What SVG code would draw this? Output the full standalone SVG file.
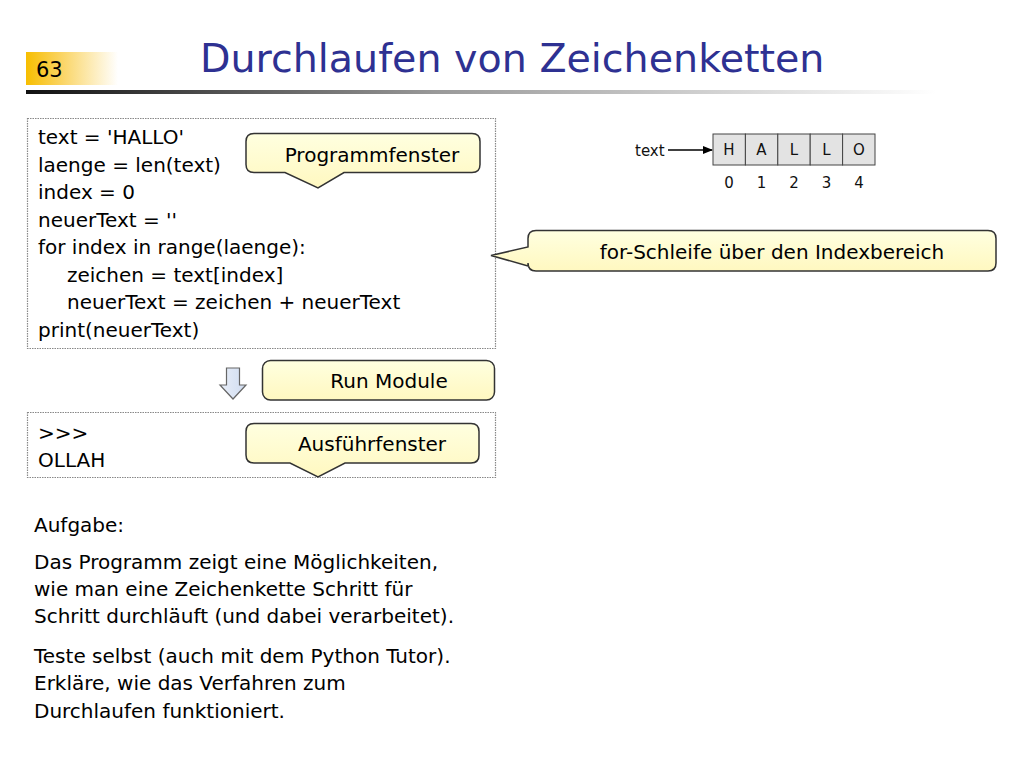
<svg xmlns="http://www.w3.org/2000/svg" width="1024" height="768" viewBox="0 0 1024 768">
<defs>
  <linearGradient id="numGrad" x1="0" y1="0" x2="1" y2="0">
    <stop offset="0" stop-color="#F7BE00"/>
    <stop offset="0.35" stop-color="#FAD25A"/>
    <stop offset="1" stop-color="#FFFFFF"/>
  </linearGradient>
  <linearGradient id="lineGrad" x1="0" y1="0" x2="1" y2="0">
    <stop offset="0" stop-color="#111111"/>
    <stop offset="0.45" stop-color="#999999"/>
    <stop offset="1" stop-color="#FFFFFF"/>
  </linearGradient>
  <linearGradient id="calloutGrad" x1="0" y1="0" x2="0" y2="1">
    <stop offset="0" stop-color="#FFFFE0"/>
    <stop offset="1" stop-color="#FFF8C0"/>
  </linearGradient>
  <linearGradient id="arrowGrad" x1="0" y1="0" x2="1" y2="0">
    <stop offset="0" stop-color="#E8EEF8"/>
    <stop offset="1" stop-color="#D0DCF0"/>
  </linearGradient>
  <marker id="arrowHead" markerWidth="10" markerHeight="8" refX="9" refY="4" orient="auto" markerUnits="userSpaceOnUse">
    <path d="M0,0 L10,4 L0,8 Z" fill="#000"/>
  </marker>
</defs>
<style>
  text { font-family: "DejaVu Sans", Verdana, sans-serif; fill: #000; }
  .title { font-size: 39.6px; fill: #2E3192; }
  .body { font-size: 20px; }
  .small { font-size: 15px; fill: #111; }
  .callout { fill: url(#calloutGrad); stroke: #333; stroke-width: 1.5; }
  .box { fill: #fff; stroke: #888; stroke-width: 1.2; stroke-dasharray: 1.5 1; }
  .cell { fill: #E3E3E3; stroke: #444; stroke-width: 1; }
  .mid { text-anchor: middle; }
</style>
<rect width="1024" height="768" fill="#fff"/>

<g id="header">
  <rect x="26" y="52" width="92" height="33" fill="url(#numGrad)"/>
  <text x="36" y="77" style="font-size:21px">63</text>
  <text class="title" x="200" y="72">Durchlaufen von Zeichenketten</text>
  <rect x="26" y="90" width="910" height="4" fill="url(#lineGrad)"/>
</g>

<g id="program-box">
  <rect class="box" x="27.5" y="118.5" width="468" height="230"/>
  <text class="body" x="38" y="144">text = 'HALLO'</text>
  <text class="body" x="38" y="172">laenge = len(text)</text>
  <text class="body" x="38" y="199">index = 0</text>
  <text class="body" x="38" y="227">neuerText = ''</text>
  <text class="body" x="38" y="254">for index in range(laenge):</text>
  <text class="body" x="67" y="282">zeichen = text[index]</text>
  <text class="body" x="67" y="309">neuerText = zeichen + neuerText</text>
  <text class="body" x="38" y="337">print(neuerText)</text>
</g>

<g id="callout-programmfenster">
  <path class="callout" d="M254,133.5 H472 Q480,133.5 480,141.5 V164.5 Q480,172.5 472,172.5 H344 L318,188 L285,172.5 H254 Q246,172.5 246,164.5 V141.5 Q246,133.5 254,133.5 Z"/>
  <text class="body mid" x="372" y="162">Programmfenster</text>
</g>

<g id="array">
  <text class="small" x="635" y="156">text</text>
  <rect class="cell" x="713" y="134" width="32.4" height="31"/>
  <rect class="cell" x="745.4" y="134" width="32.4" height="31"/>
  <rect class="cell" x="777.8" y="134" width="32.4" height="31"/>
  <rect class="cell" x="810.2" y="134" width="32.4" height="31"/>
  <rect class="cell" x="842.6" y="134" width="32.4" height="31"/>
  <text class="small mid" x="729" y="155">H</text>
  <text class="small mid" x="761.5" y="155">A</text>
  <text class="small mid" x="794" y="155">L</text>
  <text class="small mid" x="826.5" y="155">L</text>
  <text class="small mid" x="859" y="155">O</text>
  <text class="small mid" x="729" y="188">0</text>
  <text class="small mid" x="761.5" y="188">1</text>
  <text class="small mid" x="794" y="188">2</text>
  <text class="small mid" x="826.5" y="188">3</text>
  <text class="small mid" x="859" y="188">4</text>
</g>

<g id="callout-for">
  <path class="callout" d="M536,230.5 H988 Q996,230.5 996,238.5 V263 Q996,271 988,271 H536 Q528,271 528,263 V266 L491,255.5 L528,247 V238.5 Q528,230.5 536,230.5 Z"/>
  <text class="body mid" x="772" y="259">for-Schleife über den Indexbereich</text>
</g>

<g id="down-arrow">
  <path d="M226.5,368 H239.5 V385 H246 L233,399 L220,385 H226.5 Z" fill="url(#arrowGrad)" stroke="#666" stroke-width="1.2"/>
</g>

<g id="callout-run">
  <rect class="callout" x="262.5" y="360.5" width="232" height="39.5" rx="8"/>
  <text class="body mid" x="389" y="388">Run Module</text>
</g>

<g id="output-box">
  <rect class="box" x="27.5" y="412.5" width="468" height="65"/>
  <text class="body" x="38" y="440">&gt;&gt;&gt;</text>
  <text class="body" x="38" y="467">OLLAH</text>
</g>

<g id="callout-ausfuehr">
  <path class="callout" d="M254,423.5 H471 Q479,423.5 479,431.5 V455 Q479,463 471,463 H345 L318,477 L290,463 H254 Q246,463 246,455 V431.5 Q246,423.5 254,423.5 Z"/>
  <text class="body mid" x="372" y="451">Ausführfenster</text>
</g>

<g id="connectors">
  <line x1="668" y1="150" x2="712" y2="150" stroke="#000" stroke-width="1.5" marker-end="url(#arrowHead)"/>
</g>

<g id="task-text">
  <text class="body" x="34" y="532">Aufgabe:</text>
  <text class="body" x="34" y="569">Das Programm zeigt eine Möglichkeiten,</text>
  <text class="body" x="34" y="596">wie man eine Zeichenkette Schritt für</text>
  <text class="body" x="34" y="623">Schritt durchläuft (und dabei verarbeitet).</text>
  <text class="body" x="34" y="663">Teste selbst (auch mit dem Python Tutor).</text>
  <text class="body" x="34" y="690">Erkläre, wie das Verfahren zum</text>
  <text class="body" x="34" y="718">Durchlaufen funktioniert.</text>
</g>
</svg>
